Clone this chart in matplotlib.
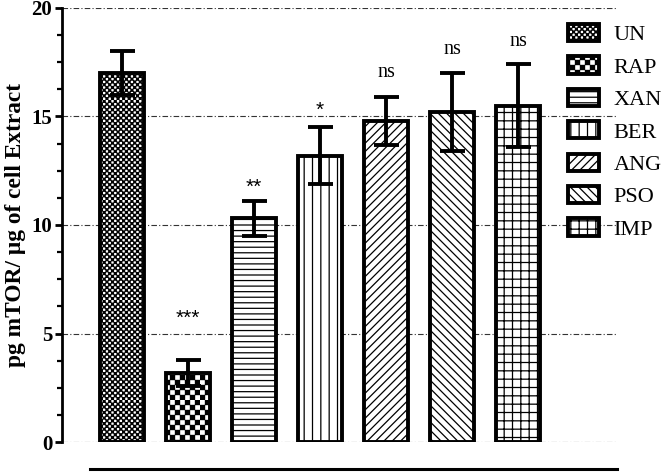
import warnings
warnings.filterwarnings("ignore")
import numpy as np
import matplotlib
matplotlib.use("Agg")
import matplotlib.pyplot as plt
import matplotlib.hatch as mhatch
from matplotlib.path import Path
from matplotlib.ticker import MultipleLocator
from matplotlib.lines import Line2D

# ---------------- data ----------------
categories = ["UN", "RAP", "XAN", "BER", "ANG", "PSO", "IMP"]
means = [17.0, 3.2, 10.3, 13.2, 14.8, 15.2, 15.5]
errors = [1.0, 0.6, 0.8, 1.3, 1.1, 1.8, 1.9]
signif = ["", "***", "**", "*", "ns", "ns", "ns"]
yticks = [0, 5, 10, 15, 20]
ylabel = "pg mTOR/ \u03bcg of cell Extract"

# ---------------- styles ----------------
hatches = ["q", "k", "---", "||", "////", "\\\\\\\\", "++"]
label_offsets = [0, 1.9, 0.65, 0.8, 1.15, 1.1, 1.05]  # data units above error tops


class CheckerHatch(mhatch.HatchPatternBase):
    """Filled checkerboard hatch: 'k' coarse, 'q' fine."""
    def __init__(self, hatch, density):
        if "k" in hatch:
            self.n, self.shrink = 20, 0.18
        elif "q" in hatch:
            self.n, self.shrink = 36, 0.30
        else:
            self.n, self.shrink = 0, 0
        self.num_vertices = (self.n * self.n // 2) * 5

    def set_vertices_and_codes(self, vertices, codes):
        n = self.n
        s = 1.0 / n
        d = s * self.shrink / 2
        idx = 0
        for i in range(n):
            for j in range(n):
                if (i + j) % 2 == 0:
                    x0, y0 = i * s + d, j * s + d
                    x1, y1 = (i + 1) * s - d, (j + 1) * s - d
                    vertices[idx:idx + 5] = [(x0, y0), (x1, y0), (x1, y1), (x0, y1), (x0, y0)]
                    codes[idx] = Path.MOVETO
                    codes[idx + 1:idx + 4] = Path.LINETO
                    codes[idx + 4] = Path.CLOSEPOLY
                    idx += 5


mhatch._hatch_types.append(CheckerHatch)

plt.rcParams["font.family"] = ["Liberation Serif", "DejaVu Serif"]
plt.rcParams["hatch.linewidth"] = 0.9
plt.rcParams["hatch.color"] = "black"

fig = plt.figure(figsize=(6.62, 4.74), dpi=100)
ax = fig.add_axes([62 / 662, 1 - 442 / 474, 555 / 662, 434 / 474])

x = np.arange(len(categories))
bars = ax.bar(x, means, width=0.68, color="white", edgecolor="black",
              linewidth=2.8, hatch=hatches, label=categories, zorder=3)
ax.errorbar(x, means, yerr=errors, fmt="none", ecolor="black", elinewidth=2.8,
            capsize=9, capthick=2.8, zorder=4)

for xi, m, e, s, off in zip(x, means, errors, signif, label_offsets):
    if not s:
        continue
    if "*" in s:
        ax.text(xi, m + e + off, s, ha="center", va="center", fontsize=15,
                family=["Liberation Sans"], zorder=5)
    else:
        ax.text(xi, m + e + off, s, ha="center", va="center", fontsize=14.5, zorder=5)

ax.set_xlim(-0.91, 7.5)
ax.set_ylim(0, 20)
ax.set_yticks(yticks)
ax.yaxis.set_minor_locator(MultipleLocator(1.25))
ax.set_xticks([])
ax.grid(axis="y", which="major", color="#333333", linewidth=0.8,
        linestyle=(0, (5, 2, 1, 2)), zorder=0)
ax.set_axisbelow(True)
for sp in ["top", "right", "bottom"]:
    ax.spines[sp].set_visible(False)
ax.spines["left"].set_linewidth(2.0)
ax.tick_params(axis="y", which="major", length=5, width=2.0, labelsize=15, pad=2)
ax.tick_params(axis="y", which="minor", length=3.5, width=1.6)
for lab in ax.get_yticklabels():
    lab.set_fontweight("bold")
ax.set_ylabel(ylabel, fontsize=16.8, fontweight="bold", labelpad=4)

# baseline bracket below bars
ax.add_line(Line2D([28 / 555, 1.0], [-27 / 434, -27 / 434], transform=ax.transAxes,
                   color="black", linewidth=2.2, clip_on=False))

leg = ax.legend(loc="upper left", bbox_to_anchor=(0.912, 0.963), frameon=False,
                fontsize=16, handlelength=1.4, handleheight=0.81, handletextpad=0.65,
                labelspacing=0.5, borderpad=0, borderaxespad=0)
for h in leg.legend_handles:
    h.set_linewidth(2.8)

fig.savefig("out.png", dpi=100)
